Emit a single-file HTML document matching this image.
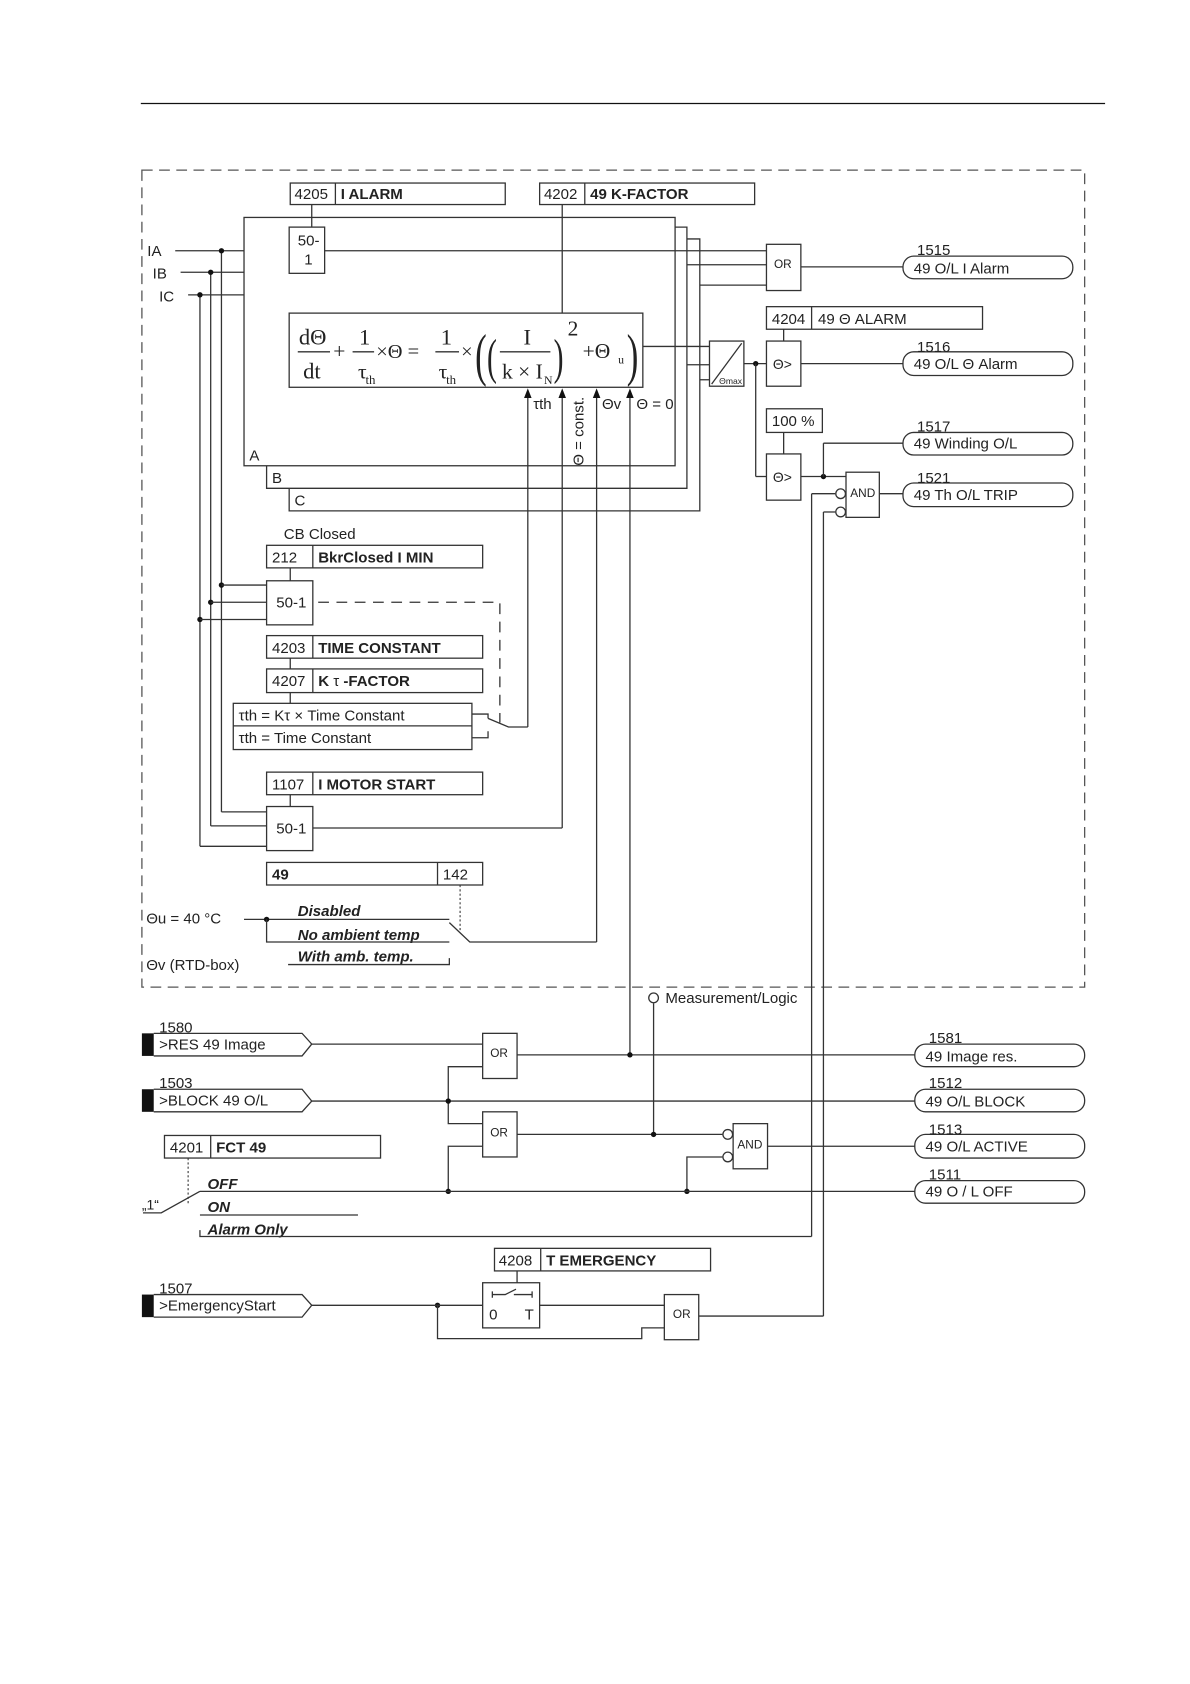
<!DOCTYPE html>
<html><head><meta charset="utf-8"><style>
html,body{margin:0;padding:0;background:#fff;}
svg{display:block;}
text{font-family:"Liberation Sans",sans-serif;fill:#222;}
text.s{font-family:"Liberation Serif",serif;}
.b{font-weight:bold;}
.bi{font-weight:bold;font-style:italic;}
</style></head><body>
<svg width="1190" height="1684" viewBox="0 0 1107 1566" xmlns="http://www.w3.org/2000/svg" fill="none" stroke="#333" stroke-width="1.2">
<line x1="131" y1="96" x2="1028" y2="96" stroke="#111"/>
<rect x="132" y="158" width="877" height="760" stroke="#555" stroke-dasharray="10,6"/>

<g font-size="14" stroke="none">
<text x="137" y="238">IA</text><text x="142" y="259">IB</text><text x="148" y="280">IC</text>
</g>
<line x1="163" y1="233" x2="269" y2="233"/>
<line x1="168" y1="253" x2="227" y2="253"/>
<line x1="175" y1="274" x2="227" y2="274"/>
<line x1="206" y1="233" x2="206" y2="755"/>
<line x1="196" y1="253" x2="196" y2="768"/>
<line x1="186" y1="274" x2="186" y2="787"/>
<g fill="#111" stroke="none">
<circle cx="206" cy="233" r="2.5"/><circle cx="196" cy="253" r="2.5"/><circle cx="186" cy="274" r="2.5"/><circle cx="248" cy="233" r="2.5"/>
<circle cx="206" cy="544" r="2.5"/><circle cx="196" cy="560" r="2.5"/><circle cx="186" cy="576" r="2.5"/>
</g>
<line x1="248" y1="233" x2="248" y2="327"/><line x1="248" y1="327" x2="269" y2="327"/>

<path d="M651 222 H269 V475 H651 Z"/>
<path d="M639 211 H248 V454 H639 Z" fill="#fff"/>
<rect x="227" y="202" width="401" height="231" fill="#fff"/>
<line x1="639" y1="246" x2="713" y2="246"/>
<line x1="651" y1="265" x2="713" y2="265"/>
<line x1="639" y1="339" x2="660" y2="339"/>
<line x1="651" y1="353" x2="660" y2="353"/>
<g font-size="14" stroke="none"><text x="232" y="428">A</text><text x="253" y="449">B</text><text x="274" y="470">C</text></g>
<line x1="302" y1="233" x2="713" y2="233"/>

<rect x="270" y="170" width="200" height="20"/><line x1="312" y1="170" x2="312" y2="190"/>
<rect x="502" y="170" width="200" height="20"/><line x1="544" y1="170" x2="544" y2="190"/>
<g font-size="14" stroke="none">
<text x="274" y="185">4205</text><text x="317" y="185" class="b">I ALARM</text>
<text x="506" y="185">4202</text><text x="549" y="185" class="b">49 K-FACTOR</text>
</g>
<line x1="290" y1="190" x2="290" y2="211"/>
<rect x="269" y="211" width="33" height="43" fill="#fff"/>
<g font-size="14" stroke="none"><text x="277" y="228">50-</text><text x="283" y="246">1</text></g>
<line x1="523" y1="190" x2="523" y2="291"/>

<rect x="269" y="291" width="329" height="69" fill="#fff"/>
<g stroke="none">
<text class="s" x="278" y="320" font-size="21">dΘ</text>
<text class="s" x="282" y="352" font-size="21">dt</text>
<text class="s" x="310" y="333" font-size="20">+</text>
<text class="s" x="334" y="320" font-size="21">1</text>
<text class="s" x="333" y="352" font-size="20">τ</text><text class="s" x="340" y="357" font-size="12">th</text>
<text class="s" x="350" y="333" font-size="19">×Θ =</text>
<text class="s" x="410" y="320" font-size="21">1</text>
<text class="s" x="408" y="352" font-size="20">τ</text><text class="s" x="415" y="357" font-size="12">th</text>
<text class="s" x="429" y="333" font-size="19">×</text>
<text class="s" x="442" y="348" font-size="54" transform="translate(442,348) scale(0.6,1) translate(-442,-348)">(</text>
<text class="s" x="453" y="347" font-size="46" transform="translate(453,347) scale(0.6,1) translate(-453,-347)">(</text>
<text class="s" x="487" y="320" font-size="21">I</text>
<text class="s" x="467" y="352" font-size="20">k × I</text><text class="s" x="506" y="357" font-size="11">N</text>
<text class="s" x="515" y="347" font-size="46" transform="translate(515,347) scale(0.6,1) translate(-515,-347)">)</text>
<text class="s" x="528" y="312" font-size="20">2</text>
<text class="s" x="542" y="333" font-size="20">+Θ</text><text class="s" x="575" y="338" font-size="11">u</text>
<text class="s" x="583" y="348" font-size="54" transform="translate(583,348) scale(0.6,1) translate(-583,-348)">)</text>
</g>
<line x1="277" y1="327" x2="307" y2="327"/>
<line x1="328" y1="327" x2="348" y2="327"/>
<line x1="405" y1="327" x2="427" y2="327"/>
<line x1="465" y1="327" x2="512" y2="327"/>

<g>
<line x1="491" y1="368" x2="491" y2="676"/>
<line x1="523" y1="368" x2="523" y2="770"/>
<line x1="555" y1="368" x2="555" y2="876"/>
<line x1="586" y1="368" x2="586" y2="981"/>
</g>
<g fill="#111" stroke="none">
<path d="M491 361 l-3.5 9 h7z"/><path d="M523 361 l-3.5 9 h7z"/><path d="M555 361 l-3.5 9 h7z"/><path d="M586 361 l-3.5 9 h7z"/>
</g>
<g font-size="14" stroke="none">
<text x="496" y="380">τth</text>
<text x="0" y="0" transform="translate(543,433) rotate(-90)">Θ = const.</text>
<text x="560" y="380">Θv</text>
<text x="592" y="380">Θ = 0</text>
</g>

<line x1="598" y1="322" x2="660" y2="322"/>
<rect x="660" y="317" width="32" height="42" fill="#fff"/>
<line x1="662" y1="357" x2="690" y2="319"/>
<text x="669" y="357" font-size="8" stroke="none">Θmax</text>
<line x1="692" y1="338" x2="713" y2="338"/>
<circle cx="703" cy="338" r="2.5" fill="#111" stroke="none"/>
<line x1="703" y1="338" x2="703" y2="443"/><line x1="703" y1="443" x2="713" y2="443"/>

<rect x="713" y="227" width="32" height="43"/>
<text x="720" y="249" font-size="11" stroke="none">OR</text>
<line x1="745" y1="248" x2="840" y2="248"/>

<rect x="713" y="285" width="201" height="21"/><line x1="755" y1="285" x2="755" y2="306"/>
<g font-size="14" stroke="none"><text x="718" y="301">4204</text><text x="761" y="301">49 Θ ALARM</text></g>
<line x1="729" y1="306" x2="729" y2="317"/>
<rect x="713" y="317" width="32" height="42"/>
<text x="719" y="343" font-size="13" stroke="none">Θ&gt;</text>
<line x1="745" y1="338" x2="840" y2="338"/>

<rect x="713" y="380" width="52" height="22"/>
<text x="718" y="396" font-size="14" stroke="none">100 %</text>
<line x1="729" y1="402" x2="729" y2="422"/>
<rect x="713" y="422" width="32" height="43"/>
<text x="719" y="448" font-size="13" stroke="none">Θ&gt;</text>
<line x1="745" y1="443" x2="787" y2="443"/>
<circle cx="766" cy="443" r="2.5" fill="#111" stroke="none"/>
<line x1="766" y1="443" x2="766" y2="412"/><line x1="766" y1="412" x2="840" y2="412"/>
<rect x="787" y="439" width="31" height="42"/>
<text x="791" y="462" font-size="11" stroke="none">AND</text>
<circle cx="782" cy="459" r="4.5" fill="#fff"/><circle cx="782" cy="476" r="4.5" fill="#fff"/>
<line x1="755" y1="459" x2="777" y2="459"/><line x1="755" y1="459" x2="755" y2="1150"/>
<line x1="766" y1="476" x2="777" y2="476"/><line x1="766" y1="476" x2="766" y2="1224"/>
<line x1="818" y1="459" x2="840" y2="459"/>

<g>
<rect x="840" y="238" width="158" height="21" rx="10"/>
<rect x="840" y="327" width="158" height="22" rx="10"/>
<rect x="840" y="402" width="158" height="21" rx="10"/>
<rect x="840" y="449" width="158" height="22" rx="10"/>
</g>
<g font-size="14" stroke="none">
<text x="853" y="237">1515</text><text x="850" y="254">49 O/L I Alarm</text>
<text x="853" y="327">1516</text><text x="850" y="343">49 O/L  Θ  Alarm</text>
<text x="853" y="401">1517</text><text x="850" y="417">49 Winding O/L</text>
<text x="853" y="449">1521</text><text x="850" y="465">49 Th O/L TRIP</text>
</g>

<text x="264" y="501" font-size="14" stroke="none">CB Closed</text>
<rect x="248" y="507" width="201" height="21"/><line x1="291" y1="507" x2="291" y2="528"/>
<g font-size="14" stroke="none"><text x="253" y="523">212</text><text x="296" y="523" class="b">BkrClosed I MIN</text></g>
<line x1="270" y1="528" x2="270" y2="540"/>
<rect x="248" y="540" width="43" height="41"/>
<text x="257" y="565" font-size="14" stroke="none">50-1</text>
<line x1="206" y1="544" x2="248" y2="544"/><line x1="196" y1="560" x2="248" y2="560"/><line x1="186" y1="576" x2="248" y2="576"/>
<path d="M296 560 H465 V672" stroke-dasharray="10,7"/>

<rect x="248" y="591" width="201" height="21"/><line x1="291" y1="591" x2="291" y2="612"/>
<g font-size="14" stroke="none"><text x="253" y="607">4203</text><text x="296" y="607" class="b">TIME CONSTANT</text></g>
<line x1="270" y1="612" x2="270" y2="622"/>
<rect x="248" y="622" width="201" height="22"/><line x1="291" y1="622" x2="291" y2="644"/>
<g font-size="14" stroke="none"><text x="253" y="638">4207</text><text x="296" y="638" class="b">K <tspan font-weight="normal">τ</tspan> -FACTOR</text></g>
<line x1="270" y1="644" x2="270" y2="654"/>
<rect x="217" y="654" width="222" height="43"/><line x1="217" y1="675" x2="439" y2="675"/>
<g font-size="14" stroke="none"><text x="222" y="670">τth = Kτ × Time Constant</text><text x="222" y="691">τth = Time Constant</text></g>
<path d="M439 664 H454 V668 M439 686 H454 V680"/>
<path d="M454 668 L473 676 H491"/>

<rect x="248" y="718" width="201" height="21"/><line x1="291" y1="718" x2="291" y2="739"/>
<g font-size="14" stroke="none"><text x="253" y="734">1107</text><text x="296" y="734" class="b">I MOTOR START</text></g>
<line x1="270" y1="739" x2="270" y2="750"/>
<rect x="248" y="750" width="43" height="41"/>
<text x="257" y="775" font-size="14" stroke="none">50-1</text>
<line x1="206" y1="755" x2="248" y2="755"/><line x1="196" y1="768" x2="248" y2="768"/><line x1="186" y1="787" x2="248" y2="787"/>
<line x1="291" y1="770" x2="523" y2="770"/>

<rect x="248" y="802" width="201" height="21"/><line x1="407" y1="802" x2="407" y2="823"/>
<g font-size="14" stroke="none"><text x="253" y="818" class="b">49</text><text x="412" y="818">142</text></g>
<line x1="428" y1="823" x2="428" y2="866" stroke-dasharray="2,2" stroke-width="1"/>
<g font-size="14" stroke="none">
<text x="136" y="859">Θu = 40 °C</text>
<text x="136" y="902">Θv (RTD-box)</text>
<text x="277" y="852" class="bi">Disabled</text>
<text x="277" y="874" class="bi">No ambient temp</text>
<text x="277" y="894" class="bi">With amb. temp.</text>
</g>
<line x1="227" y1="855" x2="418" y2="855"/>
<circle cx="248" cy="855" r="2.5" fill="#111" stroke="none"/>
<path d="M248 855 V876 H418"/>
<path d="M268 897 H418 V891"/>
<path d="M418 858 L437 876 H555"/>

<circle cx="608" cy="928" r="4.5" fill="#fff"/>
<text x="619" y="933" font-size="14" stroke="none">Measurement/Logic</text>
<line x1="608" y1="933" x2="608" y2="1055"/>

<g fill="#111" stroke="none">
<rect x="132" y="961" width="11" height="21"/><rect x="132" y="1013" width="11" height="21"/><rect x="132" y="1204" width="11" height="21"/>
</g>
<path d="M143 961 H281 L290 971 L281 982 H143"/>
<path d="M143 1013 H281 L290 1024 L281 1034 H143"/>
<path d="M143 1204 H281 L290 1214 L281 1225 H143"/>
<g font-size="14" stroke="none">
<text x="148" y="960">1580</text><text x="148" y="976">&gt;RES 49 Image</text>
<text x="148" y="1012">1503</text><text x="148" y="1028">&gt;BLOCK 49 O/L</text>
<text x="148" y="1203">1507</text><text x="148" y="1219">&gt;EmergencyStart</text>
</g>
<line x1="290" y1="971" x2="449" y2="971"/>
<rect x="449" y="961" width="32" height="42"/><text x="456" y="983" font-size="11" stroke="none">OR</text>
<line x1="481" y1="981" x2="851" y2="981"/>
<line x1="290" y1="1024" x2="851" y2="1024"/>
<path d="M449 992 H417 V1045 H449"/>
<rect x="449" y="1034" width="32" height="42"/><text x="456" y="1057" font-size="11" stroke="none">OR</text>
<path d="M449 1066 H417 V1108"/>
<line x1="481" y1="1055" x2="672" y2="1055"/>
<rect x="682" y="1045" width="32" height="42"/><text x="686" y="1068" font-size="11" stroke="none">AND</text>
<circle cx="677" cy="1055" r="4.5" fill="#fff"/><circle cx="677" cy="1076" r="4.5" fill="#fff"/>
<path d="M672 1076 H639 V1108"/>
<line x1="714" y1="1066" x2="851" y2="1066"/>
<g fill="#111" stroke="none">
<circle cx="586" cy="981" r="2.5"/><circle cx="417" cy="1024" r="2.5"/><circle cx="608" cy="1055" r="2.5"/>
<circle cx="417" cy="1108" r="2.5"/><circle cx="639" cy="1108" r="2.5"/><circle cx="407" cy="1214" r="2.5"/>
</g>

<rect x="153" y="1056" width="201" height="21"/><line x1="196" y1="1056" x2="196" y2="1077"/>
<g font-size="14" stroke="none"><text x="158" y="1072">4201</text><text x="201" y="1072" class="b">FCT 49</text></g>
<line x1="175" y1="1077" x2="175" y2="1120" stroke-dasharray="2,2" stroke-width="1"/>
<g font-size="14" stroke="none">
<text x="193" y="1106" class="bi">OFF</text>
<text x="193" y="1127" class="bi">ON</text>
<text x="193" y="1148" class="bi">Alarm Only</text>
<text x="132" y="1125" font-size="13">„1“</text>
</g>
<line x1="186" y1="1108" x2="851" y2="1108"/>
<path d="M133 1128 H150 L186 1108"/>
<line x1="186" y1="1130" x2="333" y2="1130"/>
<path d="M186 1144 V1150 H755"/>

<g>
<rect x="851" y="971" width="158" height="21" rx="10"/>
<rect x="851" y="1013" width="158" height="21" rx="10"/>
<rect x="851" y="1055" width="158" height="22" rx="10"/>
<rect x="851" y="1098" width="158" height="21" rx="10"/>
</g>
<g font-size="14" stroke="none">
<text x="864" y="970">1581</text><text x="861" y="987">49  Image res.</text>
<text x="864" y="1012">1512</text><text x="861" y="1029">49 O/L BLOCK</text>
<text x="864" y="1055">1513</text><text x="861" y="1071">49 O/L ACTIVE</text>
<text x="864" y="1097">1511</text><text x="861" y="1113">49 O / L OFF</text>
</g>

<rect x="460" y="1161" width="201" height="21"/><line x1="503" y1="1161" x2="503" y2="1182"/>
<g font-size="14" stroke="none"><text x="464" y="1177">4208</text><text x="508" y="1177" class="b">T EMERGENCY</text></g>
<line x1="481" y1="1182" x2="481" y2="1193"/>
<line x1="290" y1="1214" x2="449" y2="1214"/>
<rect x="449" y="1193" width="53" height="42"/>
<path d="M458 1201 V1207 M458 1204 H470 L480 1199 M478 1204 H495 M495 1201 V1207"/>
<g font-size="14" stroke="none"><text x="455" y="1227">0</text><text x="488" y="1227">T</text></g>
<line x1="502" y1="1214" x2="618" y2="1214"/>
<path d="M407 1214 V1245 H597 V1235 H618"/>
<rect x="618" y="1204" width="32" height="42"/><text x="626" y="1226" font-size="11" stroke="none">OR</text>
<path d="M650 1224 H766"/>
</svg>
</body></html>
